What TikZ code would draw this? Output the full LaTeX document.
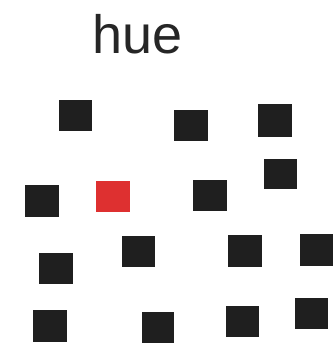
\documentclass[tikz,border=0pt]{standalone}
\usepackage{fontspec}
\setmainfont{Liberation Sans}
\begin{document}
\begin{tikzpicture}[x=1pt,y=-1pt,
  sq/.style={fill=black!88},
  redsq/.style={fill=red!80!black!95!white}]
\useasboundingbox (0,0) rectangle (336,353);
\node[anchor=base,inner sep=0pt,text=black!85,font=\fontsize{54}{60}\selectfont] (title) at (137.5,53) {hue};
\fill[sq] (59,100) rectangle (92,131);
\fill[sq] (174,110) rectangle (208,141);
\fill[sq] (258,104) rectangle (292,137);
\fill[sq] (264,159) rectangle (297,189);
\fill[sq] (25,185) rectangle (59,217);
\fill[fill={rgb,255:red,222;green,48;blue,48}] (96,181) rectangle (130,212);
\fill[sq] (193,180) rectangle (227,211);
\fill[sq] (39,253) rectangle (73,284);
\fill[sq] (122,236) rectangle (155,267);
\fill[sq] (228,235) rectangle (262,267);
\fill[sq] (300,234) rectangle (333,266);
\fill[sq] (33,310) rectangle (67,342);
\fill[sq] (142,312) rectangle (174,343);
\fill[sq] (226,306) rectangle (259,337);
\fill[sq] (295,298) rectangle (328,329);
\end{tikzpicture}
\end{document}
